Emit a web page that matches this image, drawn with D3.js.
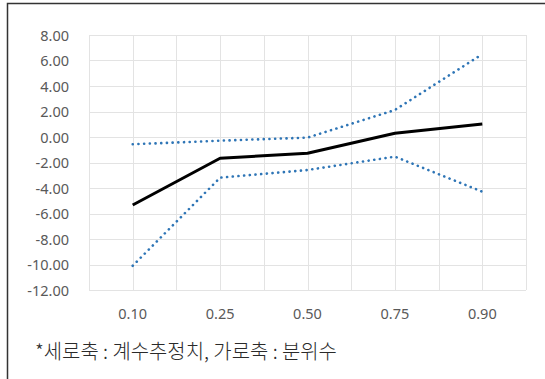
<!DOCTYPE html>
<html><head><meta charset="utf-8">
<script src="https://cdn.jsdelivr.net/npm/d3@7"></script>
<style>body{margin:0;background:#fff}svg{display:block}</style>
</head><body>
<svg id="c" width="545" height="379"></svg>
<script>
const categories = ["0.10","0.25","0.50","0.75","0.90"];
const estimate = [-5.33, -1.67, -1.28, 0.29, 1.02];
const upper = [-0.57, -0.29, -0.05, 2.12, 6.50];
const lower = [-10.10, -3.19, -2.59, -1.54, -4.29];
const yTicks = [8,6,4,2,0,-2,-4,-6,-8,-10,-12];
const caption = "*세로축 : 계수추정치, 가로축 : 분위수";

(function(){
const svg = d3.select("#c");
const pL = 89, pR = 526, pT = 35, pB = 290;
const x = d3.scaleBand().domain(categories).range([pL, pR]);
const y = d3.scaleLinear().domain([-12, 8]).range([pB, pT]);

svg.append("path").attr("d", `M7.5,${379+5} L7.5,3.5 L${545+5},3.5`)
  .attr("fill","none").attr("stroke","#333").attr("stroke-width",1.5);

const g = svg.append("g");
g.selectAll(".hg").data(yTicks).enter().append("line")
  .attr("x1", pL).attr("x2", pR)
  .attr("y1", d => Math.round(y(d))+0.5).attr("y2", d => Math.round(y(d))+0.5)
  .attr("stroke", "#e3e3e3").attr("stroke-width", 1);
const vx = [];
categories.forEach(c => { vx.push(x(c)); vx.push(x(c)+x.bandwidth()/2); });
vx.push(pR);
g.selectAll(".vg").data(vx).enter().append("line")
  .attr("x1", d => Math.round(d)+0.5).attr("x2", d => Math.round(d)+0.5)
  .attr("y1", pT).attr("y2", pB)
  .attr("stroke", "#e3e3e3").attr("stroke-width", 1);

const yAxis = d3.axisLeft(y).tickValues(yTicks).tickFormat(d => d3.format(".2f")(d).replace("−","-")).tickSize(0).tickPadding(0);
const ya = svg.append("g").attr("transform", "translate(69,0)").call(yAxis);
ya.select(".domain").remove();
ya.selectAll("text").attr("fill","#595959").attr("font-size","14.5px")
  .attr("font-family","'Noto Sans', 'Open Sans', sans-serif").attr("dy","0.36em");

const xAxis = d3.axisBottom(x).tickSize(0).tickPadding(0);
const xa = svg.append("g").attr("transform", `translate(0,319)`).call(xAxis);
xa.select(".domain").remove();
xa.selectAll("text").attr("fill","#595959").attr("font-size","14.5px")
  .attr("font-family","'Noto Sans', 'Open Sans', sans-serif").attr("y",0).attr("dy","0");

const line = d3.line().x((d,i) => x(categories[i]) + x.bandwidth()/2).y(d => y(d));
[upper, lower].forEach(s => {
  svg.append("path").datum(s).attr("d", line).attr("fill","none")
    .attr("stroke","#2E75B6").attr("stroke-width",2.6)
    .attr("stroke-linecap","round").attr("stroke-dasharray","0.1 5.6");
});
svg.append("path").datum(estimate).attr("d", line).attr("fill","none")
  .attr("stroke","#000").attr("stroke-width",3).attr("stroke-linejoin","round");

svg.append("text").attr("x", 35).attr("y", 359).text(caption)
  .attr("font-family","'Noto Sans CJK KR', sans-serif").attr("font-weight",300)
  .attr("font-size","19.9px").attr("fill","#2a2a2a");
})();
</script>
</body></html>
